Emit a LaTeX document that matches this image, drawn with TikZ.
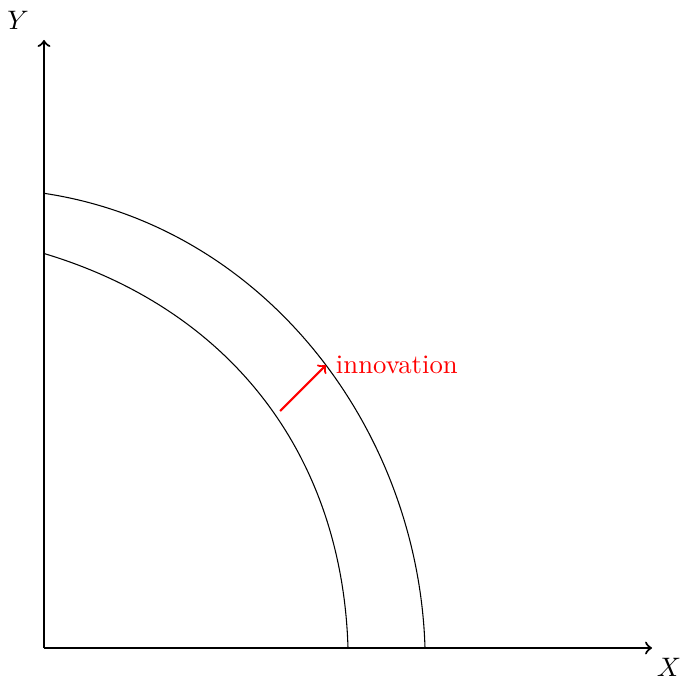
\documentclass[tikz,border=0pt]{standalone}
\begin{document}
\begin{tikzpicture}[x=0.0131579cm,y=-0.0131579cm,
  axis/.style={thick,->},
  curve/.style={thin,black},
  innov/.style={thick,red,->}]
\useasboundingbox (0,0) rectangle (681,677);
\coordinate (O) at (44,648);
\coordinate (Xend) at (652,648);
\coordinate (Yend) at (44,40);
\draw[axis] (O) -- (Xend);
\draw[axis] (O) -- (Yend);
\node (ylab) at (18,20) {$Y$};
\node[inner sep=0pt] (xlab) at (669,667) {$X$};
\coordinate (oy) at (44,193.3);
\coordinate (ox) at (425,648);
\coordinate (iy) at (44,253.5);
\coordinate (ix) at (348,648);
\draw[curve] (oy) .. controls (264,226.3) and (418.4,428) .. (ox);
\draw[curve] (iy) .. controls (234,310.5) and (342.3,458) .. (ix);
\coordinate (atail) at (280,411);
\coordinate (ahead) at (326,365);
\draw[innov] (atail) -- (ahead) node[right,red] (ilab) {innovation};
\end{tikzpicture}
\end{document}
